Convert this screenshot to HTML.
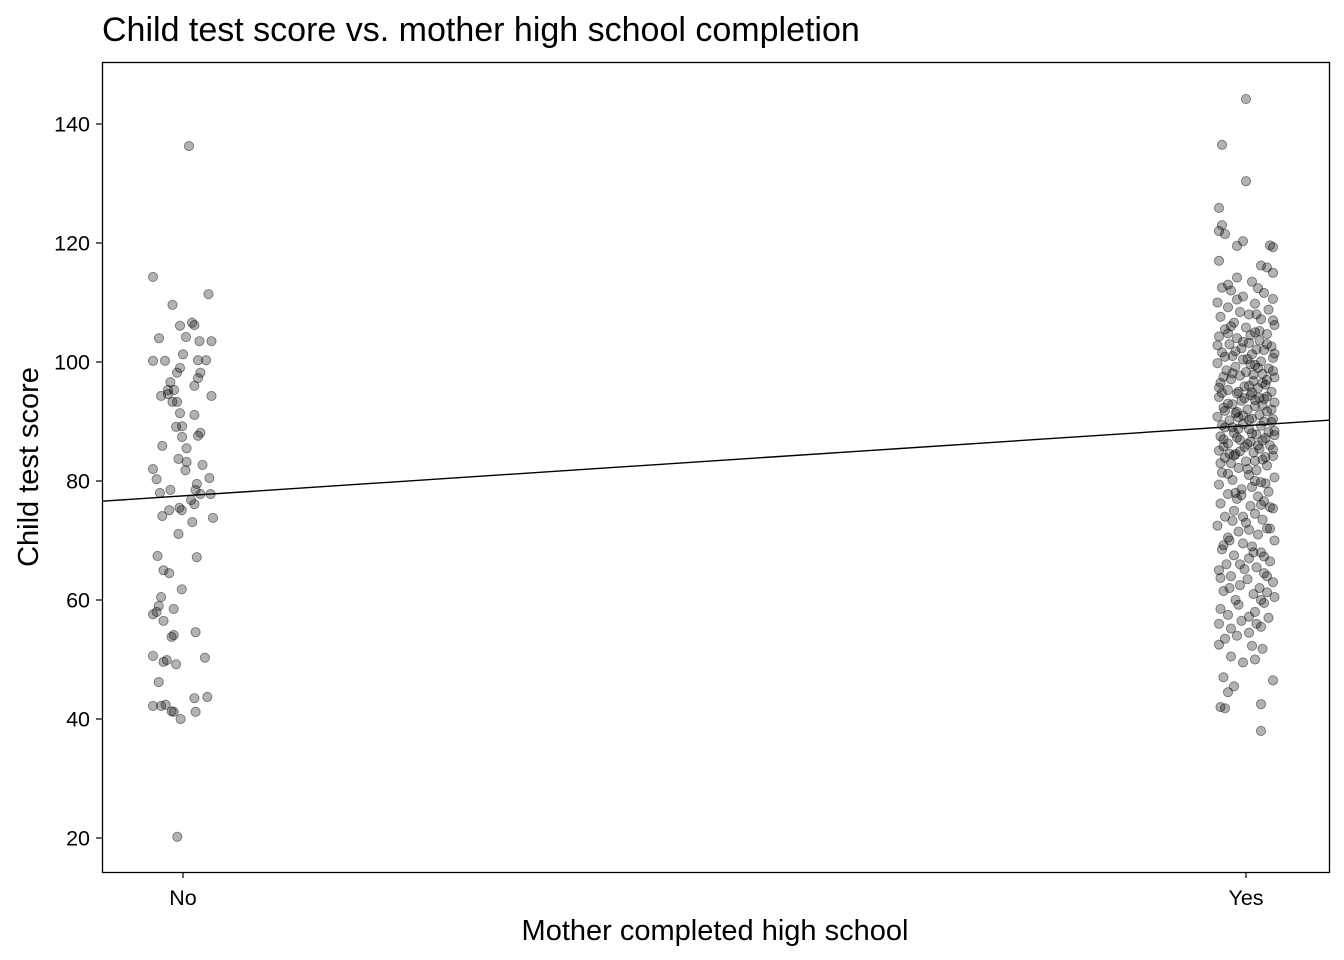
<!DOCTYPE html>
<html><head><meta charset="utf-8">
<style>
html,body{margin:0;padding:0;background:#fff;}
svg{display:block;font-family:"Liberation Sans",Arial,sans-serif;}
</style></head>
<body>
<svg id="chart" width="1344" height="960" viewBox="0 0 1344 960" xmlns="http://www.w3.org/2000/svg">
<rect width="1344" height="960" fill="#fff"/>
<text x="102" y="41" font-size="34" fill="#000">Child test score vs. mother high school completion</text>
<g id="points"></g>
<g id="axes"></g>
<rect x="102.5" y="62.5" width="1227" height="810" fill="none" stroke="#000" stroke-width="1.3"/>
<text x="715" y="940" font-size="29" text-anchor="middle" fill="#000">Mother completed high school</text>
<text transform="translate(38,467) rotate(-90)" font-size="29" text-anchor="middle" fill="#000">Child test score</text>
</svg>
<script>
const categories = ["No","Yes"];
const yTicks = [20,40,60,80,100,120,140];
const fitValues = [77.5, 89.3];
// [score, jitter(-1..1)]
const noPoints = [[114.3,-1],[136.3,0.2],[111.4,0.85],[109.6,-0.35],[106.1,-0.1],[106.6,0.3],[106.2,0.38],[104,-0.8],[104.2,0.1],[103.5,0.95],[103.5,0.55],[101.3,0],[100.2,-1],[100.2,-0.6],[100.3,0.5],[100.3,0.77],[99,-0.1],[98.2,-0.2],[98.2,0.58],[97.3,0.5],[96.6,-0.42],[95.3,-0.3],[95.3,-0.5],[94.3,-0.73],[94.3,0.95],[96,0.38],[93.3,-0.35],[93.3,-0.2],[91.4,-0.1],[89.1,-0.23],[89.2,-0.03],[88.1,0.58],[87.6,0.5],[87.4,-0.03],[85.5,0.12],[85.9,-0.69],[83.7,-0.15],[83.2,0.12],[82.7,0.65],[82,-1],[80.3,-0.88],[80.5,0.88],[79.5,0.46],[78.5,-0.42],[78.5,0.42],[78,-0.77],[77.8,0.58],[77.8,0.92],[76.8,0.27],[75.5,-0.12],[75.1,-0.04],[75.1,-0.46],[76.1,0.38],[73.8,1],[73.1,0.31],[71.1,-0.15],[67.4,-0.85],[67.2,0.46],[65,-0.65],[64.5,-0.46],[61.8,-0.04],[60.5,-0.73],[59,-0.81],[58,-0.88],[58.5,-0.31],[57.6,-1],[56.5,-0.65],[54.1,-0.31],[53.8,-0.38],[54.6,0.42],[50.6,-1],[50.3,0.73],[49.6,-0.65],[49.9,-0.54],[49.2,-0.23],[46.2,-0.81],[43.5,0.38],[43.7,0.81],[42.2,-1],[42.2,-0.73],[42.4,-0.58],[41.3,-0.38],[41.2,-0.31],[41.2,0.42],[40,-0.08],[20.2,-0.19],[94.6,-0.5],[81.8,0.08],[91.1,0.38],[74.1,-0.69]];
const yesPoints = [[144.2,0],[136.5,-0.8],[130.4,0],[125.9,-0.9],[123,-0.8],[122,-0.9],[121.5,-0.7],[120.3,-0.1],[119.5,-0.3],[119.6,0.8],[119.3,0.9],[117,-0.9],[116.2,0.5],[115.9,0.7],[115,0.9],[114.2,-0.3],[113.5,0.2],[112.5,-0.8],[112,-0.5],[112.4,0.4],[111.6,0.6],[111,-0.1],[110.6,0.9],[110,-0.95],[109.8,0.3],[109.2,-0.6],[108.8,0.75],[108.4,-0.2],[108,0.1],[107.6,-0.85],[107.2,0.5],[106.6,-0.4],[106.2,0.95],[105.8,0],[105.5,-0.7],[105,0.3],[104.7,0.7],[104.3,-0.9],[104,-0.3],[103.6,0.45],[103.2,0.1],[103,-0.55],[102.6,0.85],[102.3,-0.15],[102,0.6],[101.6,-0.8],[101.3,0.2],[101,-0.45],[100.7,0.9],[100.4,-0.1],[100.1,0.5],[99.8,-0.95],[99.5,0.3],[99.2,-0.35],[98.9,0.75],[98.6,-0.65],[98.3,0],[98,0.55],[97.7,-0.2],[97.4,0.95],[97.1,-0.5],[96.8,0.25],[96.5,-0.85],[96.2,0.65],[95.9,-0.05],[95.6,0.4],[95.3,-0.6],[95,0.85],[94.7,-0.3],[94.4,0.15],[94.1,-0.9],[93.8,0.6],[93.5,-0.15],[93.2,0.95],[92.9,-0.45],[92.6,0.3],[92.3,-0.75],[92,0.05],[91.7,0.7],[91.4,-0.35],[91.1,0.45],[90.8,-0.95],[90.5,0.2],[90.2,-0.55],[89.9,0.85],[89.6,-0.1],[89.3,0.5],[89,-0.7],[88.7,0.1],[88.4,0.95],[88.1,-0.4],[87.8,0.35],[87.5,-0.85],[87.2,0.65],[86.9,-0.2],[86.6,0.15],[86.3,-0.6],[86,0.8],[85.7,-0.05],[85.4,0.45],[85.1,-0.9],[84.8,0.25],[84.5,-0.35],[84.2,0.9],[83.9,-0.7],[83.6,0.55],[83.3,0],[83,-0.5],[82.6,0.7],[82.2,-0.25],[81.8,0.35],[81.4,-0.8],[81,0.1],[80.6,0.95],[80.2,-0.45],[79.8,0.5],[79.4,-0.9],[79,0.2],[78.6,-0.15],[78.2,0.75],[77.8,-0.6],[77.4,0.4],[77,-0.3],[76.6,0.6],[76.2,-0.85],[75.8,0.15],[75.4,0.9],[75,-0.4],[74.5,0.3],[74,-0.7],[73.5,0.55],[73,0],[72.5,-0.95],[72,0.7],[71.5,-0.25],[71,0.4],[70.5,-0.6],[70,0.95],[69.5,-0.1],[69,0.2],[68.5,-0.8],[68,0.5],[67.5,-0.4],[67,0.1],[66.5,0.8],[66,-0.65],[65.5,0.35],[65,-0.9],[64.5,0.6],[64,-0.5],[63.5,0.05],[63,0.9],[62.5,-0.2],[62,0.45],[61.5,-0.75],[61,0.25],[60.5,0.95],[60,-0.35],[59.5,0.6],[58.5,-0.85],[58,0.3],[57.5,-0.6],[57,0.75],[56.5,-0.15],[56,-0.9],[55.5,0.5],[54.5,0.1],[53.5,-0.7],[52.5,-0.9],[52.3,0.2],[51.8,0.55],[50.5,-0.5],[50,0.3],[49.5,-0.1],[47,-0.75],[46.5,0.9],[45.5,-0.4],[44.5,-0.6],[42.5,0.5],[42,-0.85],[41.8,-0.7],[38,0.5],
[108,0.35],[106,-0.5],[104.5,0.15],[103,0.7],[101.8,-0.35],[100.5,0.05],[99,0.4],[97.5,-0.75],[96,0.1],[95,-0.25],[94,0.45],[93,-0.6],[92,0.85],[91,-0.1],[90,0.6],[89,-0.45],[88,0.2],[87,-0.75],[86,0.4],[85,-0.2],[84,0.65],[83,-0.85],[82,0.05],[80,0.3],[78,-0.35],[76,0.5],[74,-0.1],[72,0.8],[70,-0.55],[68,0.25],[66,-0.2],[64,0.7],[62,-0.55],[60,0.5],[56,0.35],[54,-0.3],[98.5,0.9],[96.5,0.55],[94.8,-0.8],[93.6,0.3],[91.8,-0.7],[90.4,0.9],[88.8,-0.25],[86.8,0.55],[84.6,-0.55],[102.8,-0.95],[105.2,0.45],[107,0.9],[110.5,-0.3],[113,-0.6],
[104.8,-0.6],[103.4,-0.1],[102.1,0.35],[100.9,-0.7],[99.6,0.15],[98.1,-0.45],[97,0.7],[95.7,-0.9],[94.9,0.2],[93.9,-0.05],[92.7,0.55],[91.6,-0.3],[90.3,0.1],[89.4,-0.8],[88.2,0.75],[87.3,-0.3],[86.2,0.05],[85.3,0.9],[84.3,-0.4],[83.4,0.3],[81.2,-0.6],[79.6,0.65],[77.6,-0.15],[75.6,0.8],[73.3,-0.45],[71.8,0.1],[69.2,-0.75],[67.3,0.6],[65.2,-0.05],[63.7,-0.85],[61.3,0.7],[59.2,-0.25],[57.2,0.1],[55.2,-0.5],[101.4,0.95],[97.9,0.25],[94.2,0.7],[90.7,-0.25],[87.7,0.95],[85.8,-0.75]];

const X0 = 183, X1 = 1246, JW = 30;
const Y_PX20 = 838, PX_PER_UNIT = 5.95;
function xScale(i){ return X0 + (X1 - X0) * i; }
function yScale(v){ return Y_PX20 - (v - 20) * PX_PER_UNIT; }
const NS = "http://www.w3.org/2000/svg";
const pts = document.getElementById("points");
const axes = document.getElementById("axes");

function drawGroup(arr, ci, name){
  arr.forEach(function(p){
    const c = document.createElementNS(NS,"circle");
    c.setAttribute("cx", xScale(ci) + p[1]*JW);
    c.setAttribute("cy", yScale(p[0]));
    c.setAttribute("r", 4.6);
    c.setAttribute("fill", "rgba(0,0,0,0.3)");
    c.setAttribute("stroke", "rgba(0,0,0,0.45)");
    c.setAttribute("stroke-width", "0.9");
    
    
    pts.appendChild(c);
  });
}
drawGroup(noPoints, 0, "point-no");
drawGroup(yesPoints, 1, "point-yes");

const slope = (fitValues[1]-fitValues[0]);
const xl = (102 - X0)/(X1-X0), xr = (1329 - X0)/(X1-X0);
const fit = document.createElementNS(NS,"line");
fit.setAttribute("x1", xScale(xl)); fit.setAttribute("y1", yScale(fitValues[0] + slope*xl));
fit.setAttribute("x2", xScale(xr)); fit.setAttribute("y2", yScale(fitValues[0] + slope*xr));
fit.setAttribute("stroke","#000"); fit.setAttribute("stroke-width","1.4");


pts.appendChild(fit);

yTicks.forEach(function(t){
  const y = yScale(t);
  const l = document.createElementNS(NS,"line");
  l.setAttribute("x1",96); l.setAttribute("x2",102); l.setAttribute("y1",y); l.setAttribute("y2",y);
  l.setAttribute("stroke","#000"); l.setAttribute("stroke-width","1.2");
  
  
  axes.appendChild(l);
  const tx = document.createElementNS(NS,"text");
  tx.setAttribute("x",90); tx.setAttribute("y",y+7.5); tx.setAttribute("text-anchor","end");
  tx.setAttribute("font-size","21.5"); tx.textContent = t;
  
  
  axes.appendChild(tx);
});
categories.forEach(function(c,i){
  const x = xScale(i);
  const l = document.createElementNS(NS,"line");
  l.setAttribute("x1",x); l.setAttribute("x2",x); l.setAttribute("y1",872); l.setAttribute("y2",878);
  l.setAttribute("stroke","#000"); l.setAttribute("stroke-width","1.2");
  
  
  axes.appendChild(l);
  const tx = document.createElementNS(NS,"text");
  tx.setAttribute("x",x); tx.setAttribute("y",905); tx.setAttribute("text-anchor","middle");
  tx.setAttribute("font-size","21.5"); tx.textContent = c;
  
  
  axes.appendChild(tx);
});
</script>
</body></html>
